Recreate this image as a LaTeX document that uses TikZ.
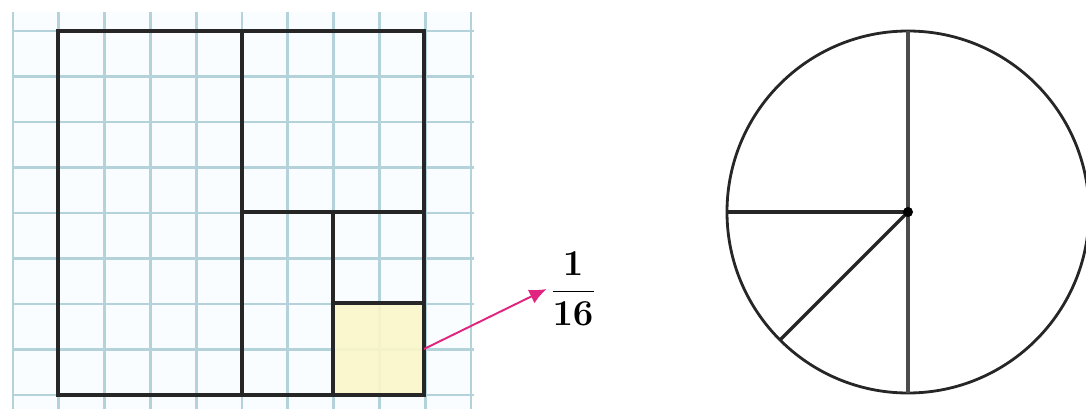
\documentclass[tikz,border=0pt]{standalone}
\usepackage{amsmath}
\usetikzlibrary{arrows.meta,positioning,calc}
\definecolor{gridblue}{HTML}{B4D2DA}
\definecolor{cellyellow}{HTML}{FBF6C8}
\definecolor{pointpink}{HTML}{E0247F}

\begin{document}
\begin{tikzpicture}[
x=0.02cm,y=-0.02cm,
gridline/.style={gridblue,line width=1.5pt},
cut/.style={black!85,line width=2pt},
rim/.style={black!85,line width=1.6pt},
pointer/.style={-{Latex[length=3.4mm,width=3mm]},pointpink,line width=1.1pt},
fraclabel/.style={inner sep=2pt,font=\fontsize{21}{25}\selectfont}
]
\useasboundingbox (0,0) rectangle (1086,409);
% squared paper
\fill[cyan!2] (13,12) rectangle (472,409);
\foreach \i in {0,...,10}      \draw[gridline] (13+45.8*\i,12) -- (13+45.8*\i,409);
\foreach \j in {0,...,8}       \draw[gridline] (13,31+45.5*\j) -- (474,31+45.5*\j);
% the shaded sixteenth
\fill[cellyellow,opacity=.9] (333,303) rectangle (424,395);
% halving the square again and again
\draw[cut] (58,31) rectangle (424,395);
\draw[cut] (242,31) -- (242,395);
\draw[cut] (242,212) -- (424,212);
\draw[cut] (333,212) -- (333,395);
\draw[cut] (333,303) -- (424,303);

\coordinate (tail) at (424,349);
\node[fraclabel] (sixteenth) at (573,289) {$\dfrac{\mathbf{1}}{\mathbf{16}}$};
\draw[pointer] (tail) -- (sixteenth.west);

% circle
\coordinate (o) at (908,212);
\draw[rim] (o) circle (181);
\draw[cut,black!70] ($(o)+(0,-181)$) -- ($(o)+(0,181)$);
\draw[cut] (o) -- ++(-181,0);
\draw[cut] (o) -- ++(-128,128);
\fill (o) circle (5);
\end{tikzpicture}
\end{document}
